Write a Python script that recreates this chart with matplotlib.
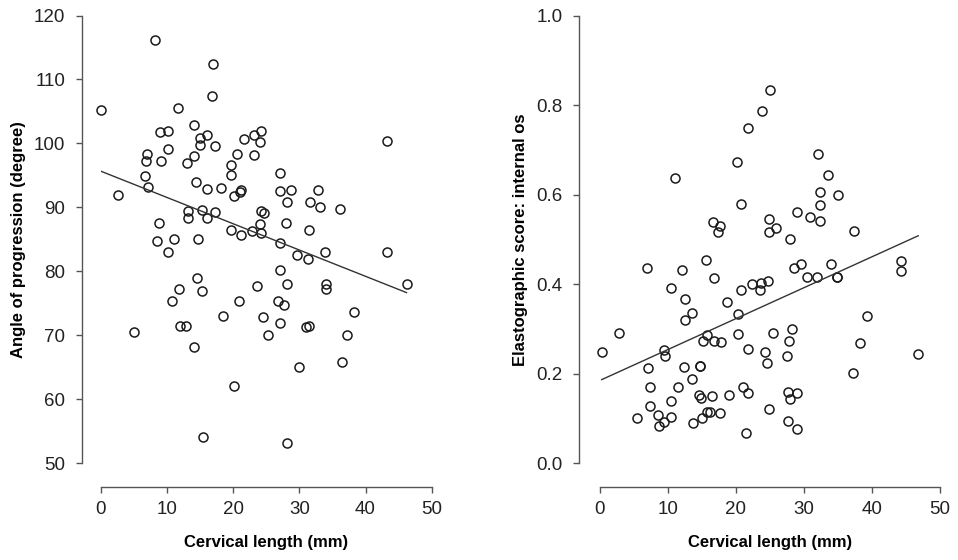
import numpy as np
import matplotlib
matplotlib.use("Agg")
import matplotlib.pyplot as plt

plt.rcParams['font.family'] = ['Liberation Sans', 'DejaVu Sans']

# left panel: cervical length (mm) vs angle of progression (degree)
cl_left = [0.05, 2.6, 5.0, 6.6, 6.8, 7.0, 7.1, 8.2, 8.4, 8.8, 9.0, 9.1, 10.1, 10.2, 10.2,
           10.7, 11.1, 11.6, 11.8, 12.0, 12.8, 13.0, 13.2, 13.2, 14.1, 14.1, 14.1, 14.3,
           14.5, 14.6, 15.0, 15.0, 15.2, 15.2, 15.5, 16.1, 16.1, 16.1, 16.8, 17.0, 17.2,
           17.2, 18.1, 18.4, 19.6, 19.7, 19.7, 20.1, 20.1, 20.5, 20.8, 21.0, 21.2, 21.2,
           21.7, 22.9, 23.1, 23.1, 23.6, 24.1, 24.1, 24.2, 24.2, 24.2, 24.5, 24.7, 25.2,
           26.7, 27.0, 27.0, 27.0, 27.1, 27.1, 27.6, 27.9, 28.2, 28.2, 28.2, 28.7, 29.7,
           30.0, 31.0, 31.3, 31.5, 31.5, 31.6, 32.8, 33.1, 33.9, 34.0, 34.0, 36.2, 36.4,
           37.2, 38.2, 43.3, 43.3, 46.2]
aop = [105.3, 92.0, 70.5, 94.9, 97.2, 98.3, 93.2, 116.1, 84.8, 87.5, 101.8, 97.2, 101.9,
       99.2, 83.1, 75.4, 85.1, 105.6, 77.2, 71.4, 71.5, 96.9, 89.4, 88.4, 102.9, 98.0, 68.2,
       93.9, 79.0, 85.0, 100.8, 99.7, 89.6, 77.0, 54.1, 101.3, 92.9, 88.3, 107.4, 112.4,
       99.6, 89.3, 93.1, 73.1, 96.6, 95.0, 86.4, 91.8, 62.1, 98.4, 75.4, 92.4, 92.8, 85.7,
       100.7, 86.3, 101.3, 98.2, 77.7, 100.2, 87.4, 101.9, 89.4, 86.0, 72.8, 89.1, 70.0,
       75.3, 92.6, 84.5, 80.2, 95.4, 71.9, 74.7, 87.5, 90.8, 78.1, 53.2, 92.7, 82.5,
       65.0, 71.3, 82.0, 86.4, 71.4, 90.8, 92.7, 90.1, 83.0, 78.1, 77.2, 89.8, 65.9,
       70.0, 73.7, 100.4, 83.0, 78.1]

# right panel: cervical length (mm) vs elastographic score at internal os
cl_right = [0.25, 2.8, 5.4, 6.9, 7.1, 7.3, 7.4, 8.6, 8.7, 9.4, 9.6, 9.4, 10.5, 10.5, 10.5,
            11.1, 11.5, 12.1, 12.3, 12.5, 12.5, 13.5, 13.6, 13.7, 14.5, 14.7, 14.7, 14.9,
            15.0, 15.1, 15.6, 15.7, 15.8, 16.2, 16.4, 16.6, 16.7, 16.7, 17.3, 17.6, 17.6,
            17.8, 18.7, 19.0, 20.2, 20.3, 20.3, 20.7, 20.7, 21.1, 21.4, 21.8, 21.8, 21.8,
            22.4, 23.6, 23.7, 23.8, 24.3, 24.5, 24.7, 24.8, 24.8, 24.9, 25.0, 25.5, 25.9,
            27.5, 27.7, 27.7, 27.8, 27.9, 27.9, 28.3, 28.6, 28.9, 29.0, 29.0, 29.6, 30.5,
            30.9, 31.9, 32.0, 32.3, 32.3, 32.4, 33.6, 33.9, 34.8, 34.8, 35.0, 37.2, 37.4,
            38.2, 39.2, 44.3, 44.3, 46.8]
elasto = [0.248, 0.290, 0.102, 0.437, 0.213, 0.170, 0.127, 0.108, 0.083, 0.254, 0.240,
          0.093, 0.392, 0.138, 0.103, 0.637, 0.170, 0.431, 0.215, 0.368, 0.320, 0.189,
          0.335, 0.090, 0.152, 0.218, 0.218, 0.145, 0.102, 0.274, 0.455, 0.286, 0.114,
          0.114, 0.150, 0.538, 0.414, 0.274, 0.517, 0.530, 0.112, 0.270, 0.361, 0.152,
          0.673, 0.333, 0.288, 0.579, 0.388, 0.170, 0.067, 0.749, 0.255, 0.158, 0.400,
          0.387, 0.402, 0.787, 0.249, 0.225, 0.407, 0.545, 0.517, 0.122, 0.833, 0.292,
          0.525, 0.240, 0.160, 0.095, 0.274, 0.502, 0.143, 0.300, 0.437, 0.562, 0.158,
          0.077, 0.445, 0.415, 0.551, 0.417, 0.690, 0.606, 0.577, 0.542, 0.644, 0.445,
          0.417, 0.417, 0.600, 0.202, 0.519, 0.269, 0.329, 0.452, 0.430, 0.244]

x_ticks = [0, 10, 20, 30, 40, 50]
left_yticks = [50, 60, 70, 80, 90, 100, 110, 120]
right_yticks = [0.0, 0.2, 0.4, 0.6, 0.8, 1.0]

fig = plt.figure(figsize=(9.58, 5.6), dpi=100)
ax1 = fig.add_axes([0.1054, 0.1727, 0.3452, 0.7996])
ax2 = fig.add_axes([0.6263, 0.1727, 0.3549, 0.7996])


def style_axes(ax, xs, ys, yticks, ylabel, yfmt, left_off):
    ax.plot(xs, ys, 'o', mfc='none', mec='#1a1a1a', ms=6.5, mew=1.1, clip_on=False)
    slope, icpt = np.polyfit(xs, ys, 1)
    xl = np.array([min(xs), max(xs)])
    ax.plot(xl, icpt + slope * xl, color='#333333', lw=1.0)
    ax.set_xlim(0, 50)
    ax.set_ylim(yticks[0], yticks[-1])
    ax.set_xticks(x_ticks)
    ax.set_yticks(yticks)
    ax.set_yticklabels([yfmt(v) for v in yticks])
    for s in ['top', 'right']:
        ax.spines[s].set_visible(False)
    ax.spines['left'].set_position(('outward', left_off))
    ax.spines['bottom'].set_position(('outward', 17.3))
    for s in ['left', 'bottom']:
        ax.spines[s].set_color('#555555')
        ax.spines[s].set_linewidth(1.0)
    ax.tick_params(direction='out', length=4, width=1.0, color='#555555',
                   labelsize=13.5, labelcolor='#222222')
    ax.tick_params(axis='y', pad=8)
    ax.tick_params(axis='x', pad=6)
    ax.set_xlabel('Cervical length (mm)', fontsize=12, fontweight='bold', labelpad=12)
    ax.set_ylabel(ylabel, fontsize=12, fontweight='bold', labelpad=6)


style_axes(ax1, cl_left, aop, left_yticks, 'Angle of progression (degree)',
           lambda v: f'{v:d}', 13.7)
style_axes(ax2, cl_right, elasto, right_yticks, 'Elastographic score: internal os',
           lambda v: f'{v:.1f}', 15.1)

fig.savefig('out.png', dpi=100)
